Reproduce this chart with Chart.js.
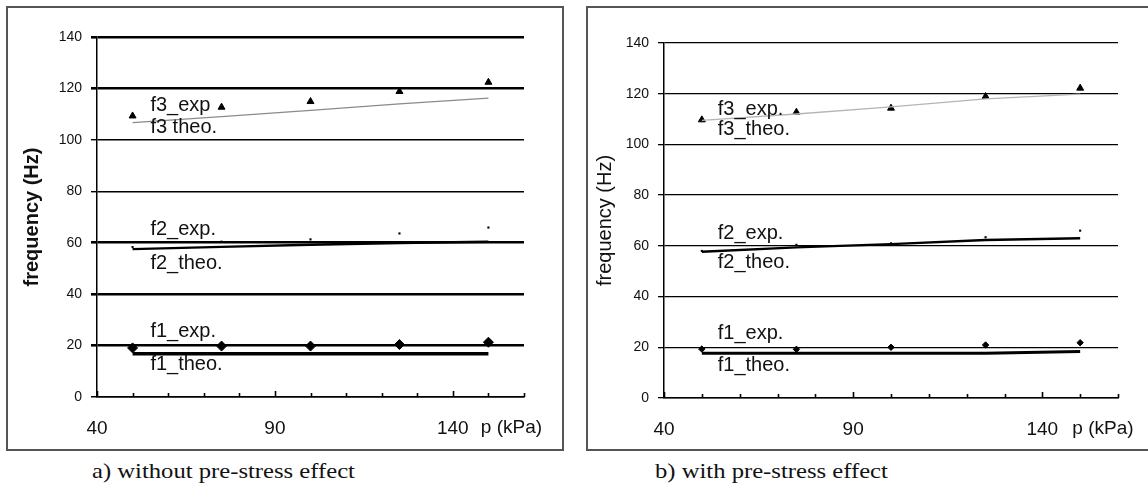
<!DOCTYPE html>
<html><head><meta charset="utf-8">
<script src="https://cdn.jsdelivr.net/npm/chart.js@4.4.0/dist/chart.umd.min.js"></script>
<style>
html,body{margin:0;padding:0;background:#fff;width:1148px;height:495px;overflow:hidden;position:relative;}
.frame{position:absolute;border:2px solid #555;box-sizing:border-box;background:#fff;}
.frame canvas{position:absolute;left:0;top:0;}
.cap{position:absolute;font-family:"Liberation Serif","Times New Roman",serif;font-size:22px;line-height:22px;color:#111;white-space:nowrap;transform-origin:0 0;transform:scaleX(1.12);}
</style></head><body>
<div class="frame" style="left:6px;top:6px;width:558px;height:445px;"><canvas id="ca" width="554" height="441"></canvas></div>
<div class="frame" style="left:586px;top:6px;width:570px;height:445px;"><canvas id="cb" width="566" height="441"></canvas></div>
<div class="cap" style="left:92px;top:460px;">a) without pre-stress effect</div>
<div class="cap" style="left:655px;top:460px;">b) with pre-stress effect</div>
<script>
// ---- data ----
const pressure = [50, 75, 100, 125, 150];            // p (kPa)
const xTickLabels = [40, 90, 140];
const yTicks = [0, 20, 40, 60, 80, 100, 120, 140];

// a) without pre-stress effect
const f1ExpA  = [19.1, 19.8, 19.8, 20.4, 21.3];
const f1TheoA = [16.8, 16.8, 16.8, 16.8, 16.8];
const f2ExpA  = [58.3, 60.4, 61.3, 63.6, 65.9];
const f2TheoA = [57.5, 58.4, 59.2, 59.9, 60.4];
const f3ExpA  = [109.3, 112.7, 114.9, 118.8, 122.4];
const f3TheoA = [106.7, 109.0, 111.5, 114.0, 116.2];

// b) with pre-stress effect
const f1ExpB  = [19.3, 19.2, 20.0, 20.9, 21.8];
const f1TheoB = [17.6, 17.6, 17.6, 17.6, 18.3];
const f2ExpB  = [58.0, 60.4, 61.0, 63.4, 66.0];
const f2TheoB = [57.7, 59.4, 60.7, 62.3, 63.0];
const f3ExpB  = [109.7, 112.7, 114.3, 118.9, 122.2];
const f3TheoB = [109.5, 112.0, 114.8, 118.0, 119.8];

const seriesLabelsA = ['f3_exp', 'f3 theo.', 'f2_exp.', 'f2_theo.', 'f1_exp.', 'f1_theo.'];
const seriesLabelsB = ['f3_exp.', 'f3_theo.', 'f2_exp.', 'f2_theo.', 'f1_exp.', 'f1_theo.'];
const xUnit = 'p (kPa)';
const yTitle = 'frequency (Hz)';

// ---- helpers ----
const pts = arr => pressure.map((p, i) => ({x: p, y: arr[i]}));
const SANS = '"Liberation Sans", Arial, sans-serif';

const extras = {
  id: 'extras',
  afterDatasetsDraw(chart, args, o) {
    const {ctx} = chart, x = chart.scales.x, y = chart.scales.y;
    ctx.save();
    // x-axis tick marks pointing up into the plot
    ctx.strokeStyle = '#000'; ctx.lineWidth = 1.6;
    for (let v = x.min; v <= x.max + 0.01; v += 10) {
      const px = Math.round(x.getPixelForValue(v)) + 0.5;
      const len = ((v - 40) % 50 === 0) ? 6 : 4;
      ctx.beginPath(); ctx.moveTo(px, y.bottom); ctx.lineTo(px, y.bottom - len); ctx.stroke();
    }
    // series annotations
    ctx.fillStyle = '#111'; ctx.font = o.labelFont; ctx.textAlign = 'left'; ctx.textBaseline = 'middle';
    o.labels.forEach((t, i) => ctx.fillText(t, x.getPixelForValue(o.labelX), y.getPixelForValue(o.labelY[i])));
    // unit of x-axis
    ctx.font = o.tickFont;
    ctx.fillText(xUnit, x.getPixelForValue(140) + o.unitDx, y.bottom + o.unitDy);
    ctx.restore();
  }
};

function makeChart(id, d, cfg) {
  return new Chart(document.getElementById(id), {
    type: 'scatter',
    data: {datasets: [
      {data: pts(d.f1Theo), showLine: true, borderColor: '#000', borderWidth: cfg.f1w, pointRadius: 0},
      {data: pts(d.f2Theo), showLine: true, borderColor: '#000', borderWidth: 2.4, pointRadius: 0},
      {data: pts(d.f3Theo), showLine: true, borderColor: cfg.f3col, borderWidth: 1.3, pointRadius: 0},
      {data: pts(d.f1Exp), showLine: false, pointStyle: 'rectRot', pointRadius: cfg.f1r, backgroundColor: '#000', borderColor: '#000', borderWidth: 1},
      {data: pts(d.f2Exp), showLine: false, pointStyle: 'rect', pointRadius: 1.5, backgroundColor: '#000', borderColor: '#000', borderWidth: 0},
      {data: pts(d.f3Exp), showLine: false, pointStyle: 'triangle', pointRadius: 4, backgroundColor: '#000', borderColor: '#000', borderWidth: 1}
    ]},
    options: {
      responsive: false, animation: false, devicePixelRatio: 1,
      layout: {padding: {left: 0, right: cfg.padR, top: cfg.padT, bottom: 0}},
      plugins: {legend: {display: false}, tooltip: {enabled: false},
        extras: {labels: cfg.labels, labelX: cfg.labelX, labelY: cfg.labelY,
                 labelFont: '20px ' + SANS, tickFont: '19px ' + SANS, unitDx: cfg.unitDx, unitDy: 31}},
      scales: {
        x: {type: 'linear', min: 40, max: 160,
          afterFit: s => { s.height = cfg.xH; },
          grid: {display: true, color: 'transparent', drawTicks: false},
          border: {display: true, color: '#000', width: 1.5},
          ticks: {stepSize: 10, autoSkip: false, maxRotation: 0, padding: 20, color: '#111',
                  font: {family: SANS, size: 19},
                  callback: v => xTickLabels.includes(v) ? String(v) : ''}},
        y: {type: 'linear', min: 0, max: 140,
          afterFit: s => { s.width = cfg.yW; },
          afterBuildTicks: s => { s.ticks = yTicks.map(v => ({value: v})); },
          grid: {color: '#000', lineWidth: cfg.gridW, tickLength: 6},
          border: {display: true, color: '#000', width: 1.5},
          ticks: {padding: 9, color: '#111', font: {family: SANS, size: 14}},
          title: {display: true, text: yTitle, color: '#111',
                  font: {family: SANS, size: 20, weight: cfg.titleWeight}, padding: {top: cfg.titlePad, bottom: 0}}}
      }
    },
    plugins: [extras]
  });
}

makeChart('ca', {f1Exp: f1ExpA, f1Theo: f1TheoA, f2Exp: f2ExpA, f2Theo: f2TheoA, f3Exp: f3ExpA, f3Theo: f3TheoA}, {
  padR: 38, padT: 29, xH: 52, yW: 89, f1w: 3.5, f1r: 5, f3col: '#8a8a8a',
  gridW: c => (c.tick && (c.tick.value === 100 || c.tick.value === 80)) ? 1.4 : (c.tick && c.tick.value === 0 ? 1.5 : 2.6),
  titleWeight: 'bold', titlePad: 12, unitDx: 28,
  labels: seriesLabelsA, labelX: 55, labelY: [113.2, 104.7, 65, 52.1, 25.3, 12.5]
});
makeChart('cb', {f1Exp: f1ExpB, f1Theo: f1TheoB, f2Exp: f2ExpB, f2Theo: f2TheoB, f3Exp: f3ExpB, f3Theo: f3TheoB}, {
  padR: 36, padT: 35, xH: 51, yW: 76, f1w: 3, f1r: 3.2, f3col: '#b5b5b5',
  gridW: 1.3, titleWeight: 'normal', titlePad: 5, unitDx: 30,
  labels: seriesLabelsB, labelX: 54.2, labelY: [113.6, 105.7, 65, 53.3, 25.6, 13]
});
</script>
</body></html>
